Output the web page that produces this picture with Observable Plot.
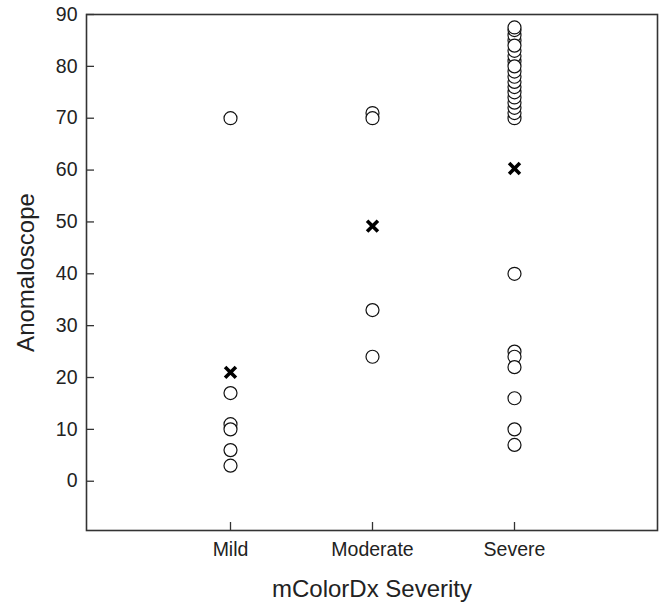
<!DOCTYPE html>
<html>
<head>
<meta charset="utf-8">
<script src="https://cdn.jsdelivr.net/npm/d3@7"></script>
<script src="https://cdn.jsdelivr.net/npm/@observablehq/plot@0.6"></script>
<style>
  html, body { margin: 0; padding: 0; background: #fff; }
  #chart svg { display: block; }
</style>
</head>
<body>
<div id="chart"></div>
<script>
const categories = ["Mild", "Moderate", "Severe"];
const mildValues = [70, 17, 11, 10, 6, 3];
const moderateValues = [71, 70, 33, 24];
const severeValues = [70, 71, 72, 73, 74, 75, 76, 77, 78, 79, 81, 82, 85, 86, 87, 87.5, 83, 84, 80,
                      40, 25, 24, 22, 16, 10, 7];
const meanValues = [21, 49.2, 60.3];
const yTicks = [0, 10, 20, 30, 40, 50, 60, 70, 80, 90];
const yLabel = "Anomaloscope";
const xLabel = "mColorDx Severity";

const points = [
  ...mildValues.map(v => ({group: categories[0], value: v})),
  ...moderateValues.map(v => ({group: categories[1], value: v})),
  ...severeValues.map(v => ({group: categories[2], value: v}))
];
const means = categories.map((c, i) => ({group: c, value: meanValues[i]}));

const font = "'Liberation Sans', Arial, sans-serif";

const chart = Plot.plot({
  width: 663,
  height: 607,
  marginLeft: 86,
  marginRight: 6,
  marginTop: 14,
  marginBottom: 77,
  style: {fontFamily: font, fontSize: "19.5px", color: "#222", background: "#fff"},
  x: {type: "point", domain: categories, padding: 1},
  y: {domain: [-9.5, 90]},
  marks: [
    Plot.axisY(yTicks, {tickSize: 0, tickPadding: 9, label: null, fontSize: 19.5}),
    Plot.axisY(yTicks, {tickSize: -8, tickFormat: () => "", label: null, stroke: "#333", strokeWidth: 1.3}),
    Plot.axisX(categories, {tickSize: 0, tickPadding: 12, label: null, fontSize: 19.5}),
    Plot.axisX(categories, {tickSize: -8, tickFormat: () => "", label: null, stroke: "#333", strokeWidth: 1.3}),
    Plot.frame({stroke: "#333", strokeWidth: 1.6}),
    Plot.dot(points, {x: "group", y: "value", r: 6.5, fill: "white", stroke: "#111", strokeWidth: 1.2}),
    Plot.dot(means, {x: "group", y: "value", symbol: "times", r: 5, stroke: "#000", strokeWidth: 3.6}),
    Plot.text([yLabel], {frameAnchor: "left", textAnchor: "middle", text: d => d, rotate: -90, dx: -60, fontSize: 24, fill: "#222"}),
    Plot.text([xLabel], {frameAnchor: "bottom", text: d => d, dy: 66, fontSize: 24, fill: "#222"})
  ]
});
document.getElementById("chart").appendChild(chart);
</script>
</body>
</html>
